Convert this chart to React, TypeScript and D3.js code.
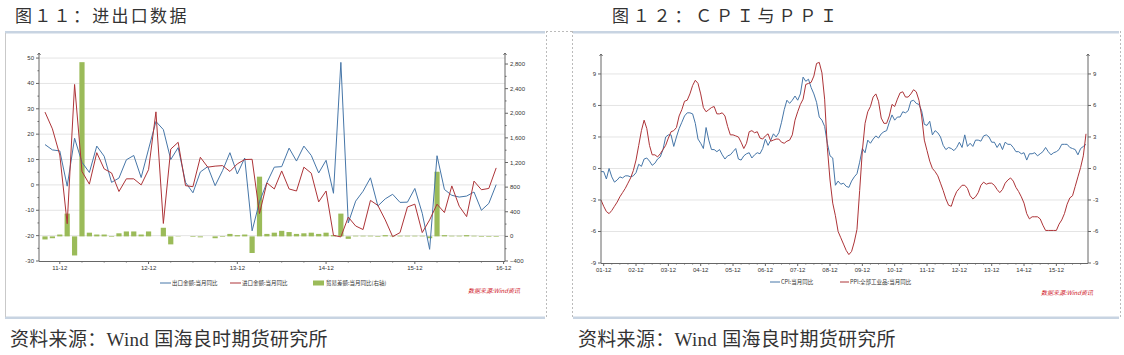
import React from "react";
import * as d3 from "d3";

// ---------- Left chart data (monthly, 2011-10 .. 2016-11) ----------
const exportYoY = [15.9, 13.8, 13.4,
  -0.5, 18.4, 8.9, 4.9, 15.3, 11.3, 1.0, 2.7, 9.9, 11.6, 2.9, 14.1,
  25.0, 21.8, 10.0, 14.7, 1.0, -3.1, 5.1, 7.2, -0.3, 5.6, 12.7, 4.3,
  10.6, -18.1, -6.6, 0.9, 7.0, 7.2, 14.5, 9.4, 15.3, 11.6, 4.7, 9.7,
  -3.3, 48.3, -15.0, -6.4, -2.5, 2.8, -8.3, -5.5, -3.7, -6.9, -6.8, -1.4,
  -11.2, -25.4, 11.5, -1.8, -4.1, -4.8, -4.4, -2.8, -10.0, -7.3, 0.1];
const importYoY = [28.7, 22.1, 11.8,
  -15.3, 39.6, 5.3, 0.3, 12.7, 6.3, 4.7, -2.6, 2.4, 2.4, 0.0, 6.0,
  28.8, -15.2, 14.1, 16.8, -0.3, -0.7, 10.9, 7.0, 7.4, 7.6, 5.3, 8.3,
  10.0, 10.1, -11.3, 0.8, -1.6, 5.5, -1.6, -2.4, 7.0, 4.6, -6.7, -2.4,
  -19.9, -20.5, -12.7, -16.2, -17.6, -6.1, -8.1, -13.8, -20.4, -18.8, -8.7, -7.6,
  -18.8, -13.8, -7.6, -10.9, -0.4, -8.4, -12.5, 1.5, -1.9, -1.4, 6.7];
const balanceYoY = [-50, -30, 30,
  370, -310, 2830, 60, 30, 30, -10, 50, 80, 80, 30, 80,
  0, 140, -130, -5, 0, -10, -15, 0, -30, -10, 40, 20,
  30, -270, 970, 40, 60, 90, 70, 40, 50, 60, 40, 60,
  20, 370, -40, 10, 10, 10, -10, 20, 10, 10, 10, 10,
  10, -30, 1050, 20, 10, 10, 20, 10, -10, -10, -10];
const tradeTickLabels = ["11-12", "12-12", "13-12", "14-12", "15-12", "16-12"];
const tradeLeftTicks = [50, 40, 30, 20, 10, 0, -10, -20, -30];
const tradeRightTicks = [2800, 2400, 2000, 1600, 1200, 800, 400, 0, -400];
const tradeLegend = ["出口金额:当月同比", "进口金额:当月同比", "贸易差额:当月同比(右轴)"];

// ---------- Right chart data (monthly, 2001-11 .. 2016-11) ----------
const cpiYoY = [-0.3, -0.3,
  -1.0, 0.0, -0.8, -1.3, -1.1, -0.8, -0.9, -0.7, -0.7, -0.8, -0.7, -0.4,
  0.4, 0.2, 0.9, 1.0, 0.7, 0.3, 0.5, 0.9, 1.1, 1.8, 3.0, 3.2,
  3.2, 2.1, 3.0, 3.8, 4.4, 5.0, 5.3, 5.3, 5.2, 4.3, 2.8, 2.4,
  1.9, 3.9, 2.7, 1.8, 1.8, 1.6, 1.8, 1.3, 0.9, 1.2, 1.3, 1.6,
  1.9, 0.9, 0.8, 1.2, 1.4, 1.5, 1.0, 1.3, 1.5, 1.4, 1.9, 2.8,
  2.2, 2.7, 3.3, 3.0, 3.4, 4.4, 5.6, 6.5, 6.2, 6.5, 6.9, 6.5,
  7.1, 8.7, 8.3, 8.5, 7.7, 7.1, 6.3, 4.9, 4.6, 4.0, 2.4, 1.2,
  1.0, -1.6, -1.2, -1.5, -1.4, -1.7, -1.8, -1.2, -0.8, -0.5, 0.6, 1.9,
  1.5, 2.7, 2.4, 2.8, 3.1, 2.9, 3.3, 3.5, 3.6, 4.4, 5.1, 4.6,
  4.9, 4.9, 5.4, 5.3, 5.5, 6.4, 6.5, 6.2, 6.1, 5.5, 4.2, 4.1,
  4.5, 3.2, 3.6, 3.4, 3.0, 2.2, 1.8, 2.0, 1.9, 1.7, 2.0, 2.5,
  2.0, 3.2, 2.1, 2.4, 2.1, 2.7, 2.7, 2.6, 3.1, 3.2, 3.0, 2.5,
  2.5, 2.0, 2.4, 1.8, 2.5, 2.3, 2.3, 2.0, 1.6, 1.6, 1.4, 1.5,
  0.8, 1.4, 1.4, 1.5, 1.2, 1.4, 1.6, 2.0, 1.6, 1.3, 1.5, 1.6,
  1.8, 2.3, 2.3, 2.3, 2.0, 1.9, 1.8, 1.3, 1.9, 2.1, 2.3];
const ppiYoY = [-3.0, -3.6,
  -4.1, -4.3, -4.0, -3.6, -3.2, -2.7, -2.3, -1.9, -1.4, -0.9, -0.2, 0.8,
  2.2, 3.6, 4.6, 3.8, 2.2, 1.3, 1.3, 1.1, 1.4, 1.8, 2.2, 2.9,
  3.5, 3.6, 3.9, 5.0, 5.6, 6.4, 6.5, 7.1, 7.9, 8.4, 8.1, 7.1,
  5.8, 5.4, 5.6, 5.8, 5.9, 5.2, 5.2, 5.3, 5.0, 4.0, 3.2, 3.2,
  3.1, 3.0, 2.5, 1.9, 2.4, 3.5, 3.6, 3.4, 3.5, 2.9, 2.8, 3.1,
  3.3, 2.6, 2.7, 2.8, 2.8, 2.5, 2.4, 2.6, 2.7, 3.2, 4.6, 5.4,
  6.1, 6.6, 8.0, 8.1, 8.2, 8.8, 10.0, 10.1, 9.1, 6.6, 2.0, -1.1,
  -3.3, -4.5, -6.0, -6.6, -7.2, -7.8, -8.2, -7.9, -7.0, -5.8, -2.1, 1.7,
  4.3, 5.4, 5.9, 6.8, 7.1, 6.4, 4.8, 4.3, 4.3, 5.0, 6.1, 5.9,
  6.6, 7.2, 7.3, 6.8, 6.8, 7.1, 7.5, 7.3, 6.5, 5.0, 2.7, 1.7,
  0.7, 0.0, -0.3, -0.7, -1.4, -2.1, -2.9, -3.5, -3.6, -2.8, -2.2, -1.9,
  -1.6, -1.6, -1.9, -2.6, -2.9, -2.7, -2.3, -1.6, -1.3, -1.5, -1.4, -1.4,
  -1.6, -2.0, -2.3, -2.0, -1.4, -1.1, -0.9, -1.2, -1.8, -2.2, -2.7, -3.3,
  -4.3, -4.8, -4.6, -4.6, -4.6, -4.8, -5.4, -5.9, -5.9, -5.9, -5.9, -5.9,
  -5.3, -4.9, -4.3, -3.4, -2.8, -2.6, -1.7, -0.8, 0.1, 1.2, 3.3];
const priceTickLabels = ["01-12", "02-12", "03-12", "04-12", "05-12", "06-12", "07-12", "08-12",
  "09-12", "10-12", "11-12", "12-12", "13-12", "14-12", "15-12"];
const priceTicks = [9, 6, 3, 0, -3, -6, -9];
const priceLegend = ["CPI:当月同比", "PPI:全部工业品:当月同比"];

const titleLeft = "图１１：进出口数据";
const titleRight = "图１２：ＣＰＩ与ＰＰＩ";
const sourceText = "资料来源：Wind 国海良时期货研究所";
const windText = "数据来源:Wind资讯";

const BLUE = "#4676a8";
const RED = "#ad3438";
const GREEN = "#9bbb59";
const AXIS = "#666";
const GRID = "#e4e4e4";
const TICKFONT = "'Liberation Sans', Arial, sans-serif";
const CJK = "'Noto Sans CJK SC', sans-serif";
const SERIF = "'Liberation Serif', 'Noto Sans CJK SC', serif";

function fmt(v: number) {
  return d3.format(",")(v);
}

function TradeChart() {
  const x0 = 39, x1 = 505, yTop = 53, yBot = 261;
  const x = d3.scaleLinear().domain([0, 62]).range([45, 503.6]);
  const yL = d3.scaleLinear().domain([-30, 52]).range([yBot, yTop]);
  const yR = d3.scaleLinear().domain([-400, 2979]).range([yBot, yTop]);
  const line = (arr: number[]) =>
    d3.line<number>().x((_, i) => x(i)).y((d) => yL(d))(arr) || "";
  const minorL = d3.range(-25, 50, 10);
  const minorR = d3.range(-200, 2800, 400);
  const quarterTicks = d3.range(-1, 63, 3).filter((i) => (i - 2) % 12 !== 0);
  return (
    <g>
      {tradeLeftTicks.filter((t) => t > -30).map((t) => (
        <line key={"g" + t} x1={x0} x2={x1} y1={yL(t)} y2={yL(t)} stroke={GRID} strokeWidth={1} />
      ))}
      {balanceYoY.map((v, i) => (
        <rect key={"b" + i} x={x(i) - 2.6} width={5.2}
          y={Math.min(yR(v), yR(0))} height={Math.abs(yR(v) - yR(0))} fill={GREEN} />
      ))}
      <path d={line(exportYoY)} fill="none" stroke={BLUE} strokeWidth={1} />
      <path d={line(importYoY)} fill="none" stroke={RED} strokeWidth={1} />
      <line x1={x0} x2={x0} y1={yTop} y2={yBot} stroke={AXIS} />
      <line x1={x1} x2={x1} y1={yTop} y2={yBot} stroke={AXIS} />
      <line x1={x0} x2={x1} y1={yBot + 0.5} y2={yBot + 0.5} stroke={AXIS} />
      <path d={`M${x0 - 1.5},${yTop + 2} L${x0},${yTop} L${x0 + 1.5},${yTop + 2}`} fill="none" stroke={AXIS} />
      <path d={`M${x1 - 1.5},${yTop + 2} L${x1},${yTop} L${x1 + 1.5},${yTop + 2}`} fill="none" stroke={AXIS} />
      {tradeLeftTicks.map((t) => (
        <g key={"lt" + t}>
          <line x1={x0 - 3} x2={x0} y1={yL(t)} y2={yL(t)} stroke={AXIS} />
          <text x={x0 - 5} y={yL(t) + 2} fontSize={6} textAnchor="end" fill="#333" fontFamily={TICKFONT}>{t}</text>
        </g>
      ))}
      {minorL.map((t) => (
        <line key={"ml" + t} x1={x0 - 1.5} x2={x0} y1={yL(t)} y2={yL(t)} stroke={AXIS} />
      ))}
      {tradeRightTicks.map((t) => (
        <g key={"rt" + t}>
          <line x1={x1} x2={x1 + 3} y1={yR(t)} y2={yR(t)} stroke={AXIS} />
          <text x={x1 + 5} y={yR(t) + 2} fontSize={6} fill="#333" fontFamily={TICKFONT}>{fmt(t)}</text>
        </g>
      ))}
      {minorR.map((t) => (
        <line key={"mr" + t} x1={x1} x2={x1 + 1.5} y1={yR(t)} y2={yR(t)} stroke={AXIS} />
      ))}
      {tradeTickLabels.map((lab, k) => {
        const xi = x(2 + 12 * k);
        return (
          <g key={"xt" + lab}>
            <line x1={xi} x2={xi} y1={yBot} y2={yBot + 3} stroke={AXIS} />
            <text x={xi} y={yBot + 9} fontSize={6} textAnchor="middle" fill="#333" fontFamily={TICKFONT}>{lab}</text>
          </g>
        );
      })}
      {quarterTicks.filter((i) => x(i) > x0 && x(i) < x1).map((i) => (
        <line key={"q" + i} x1={x(i)} x2={x(i)} y1={yBot} y2={yBot + 1.5} stroke={AXIS} />
      ))}
      <line x1={160} x2={171} y1={283} y2={283} stroke={BLUE} />
      <text x={172} y={285} fontSize={5.5} fill="#333" fontFamily={CJK}>{tradeLegend[0]}</text>
      <line x1={230} x2={241} y1={283} y2={283} stroke={RED} />
      <text x={242} y={285} fontSize={5.5} fill="#333" fontFamily={CJK}>{tradeLegend[1]}</text>
      <rect x={313} y={280.5} width={11} height={5} fill={GREEN} />
      <text x={326} y={285} fontSize={5.5} fill="#333" fontFamily={CJK}>{tradeLegend[2]}</text>
      <text x={468} y={293} fontSize={6} fill="#d0202a" fontStyle="italic" fontFamily={CJK}>{windText}</text>
    </g>
  );
}

function PriceChart() {
  const x0 = 601, x1 = 1088, yTop = 54, yBot = 263;
  const x = d3.scaleLinear().domain([0, 180]).range([601, 1086]);
  const y = d3.scaleLinear().domain([-9, 10.9]).range([yBot, yTop]);
  const line = (arr: number[]) =>
    d3.line<number>().x((_, i) => x(i)).y((d) => y(d))(arr) || "";
  const quarterTicks = d3.range(1, 181, 3).filter((i) => (i - 1) % 12 !== 0);
  return (
    <g>
      {priceTicks.filter((t) => t > -9).map((t) => (
        <line key={"g" + t} x1={x0} x2={x1} y1={y(t)} y2={y(t)} stroke={GRID} />
      ))}
      <path d={line(cpiYoY)} fill="none" stroke={BLUE} strokeWidth={1} />
      <path d={line(ppiYoY)} fill="none" stroke={RED} strokeWidth={1} />
      <line x1={x0} x2={x0} y1={yTop} y2={yBot} stroke={AXIS} />
      <line x1={x1} x2={x1} y1={yTop} y2={yBot} stroke={AXIS} />
      <line x1={x0} x2={x1} y1={yBot + 0.5} y2={yBot + 0.5} stroke={AXIS} />
      <path d={`M${x0 - 1.5},${yTop + 2} L${x0},${yTop} L${x0 + 1.5},${yTop + 2}`} fill="none" stroke={AXIS} />
      <path d={`M${x1 - 1.5},${yTop + 2} L${x1},${yTop} L${x1 + 1.5},${yTop + 2}`} fill="none" stroke={AXIS} />
      {priceTicks.map((t) => (
        <g key={"t" + t}>
          <line x1={x0 - 3} x2={x0} y1={y(t)} y2={y(t)} stroke={AXIS} />
          <text x={x0 - 5} y={y(t) + 2} fontSize={6} textAnchor="end" fill="#333" fontFamily={TICKFONT}>{t}</text>
          <line x1={x1} x2={x1 + 3} y1={y(t)} y2={y(t)} stroke={AXIS} />
          <text x={x1 + 5} y={y(t) + 2} fontSize={6} fill="#333" fontFamily={TICKFONT}>{t}</text>
        </g>
      ))}
      {priceTickLabels.map((lab, k) => {
        const xi = x(1 + 12 * k);
        return (
          <g key={"xt" + lab}>
            <line x1={xi} x2={xi} y1={yBot} y2={yBot + 3} stroke={AXIS} />
            <text x={xi} y={yBot + 9} fontSize={6} textAnchor="middle" fill="#333" fontFamily={TICKFONT}>{lab}</text>
          </g>
        );
      })}
      {quarterTicks.map((i) => (
        <line key={"q" + i} x1={x(i)} x2={x(i)} y1={yBot} y2={yBot + 1.5} stroke={AXIS} />
      ))}
      <line x1={770} x2={780} y1={282} y2={282} stroke={BLUE} />
      <text x={781} y={284} fontSize={5.5} fill="#333" fontFamily={CJK}>{priceLegend[0]}</text>
      <line x1={840} x2={849} y1={282} y2={282} stroke={RED} />
      <text x={850} y={284} fontSize={5.5} fill="#333" fontFamily={CJK}>{priceLegend[1]}</text>
      <text x={1041} y={295} fontSize={6} fill="#d0202a" fontStyle="italic" fontFamily={CJK}>{windText}</text>
    </g>
  );
}

export default function App() {
  return (
    <svg width={1124} height={355} style={{ position: "absolute", left: 0, top: 0, background: "#fff" }}>
      <rect width={1124} height={355} fill="#fff" />
      <text x={15} y={22} fontSize={17} letterSpacing={2.3} fill="#333" fontFamily={CJK}>{titleLeft}</text>
      <text x={612} y={22} fontSize={17} letterSpacing={3.8} fill="#333" fontFamily={CJK}>{titleRight}</text>
      <rect x={5} y={31} width={540} height={2.5} fill="#c8d4e2" />
      <rect x={5} y={316.5} width={540} height={2.5} fill="#c8d4e2" />
      <line x1={5.5} x2={5.5} y1={33} y2={317} stroke="#c9c9c9" />
      <line x1={546.5} x2={546.5} y1={31} y2={319} stroke="#bbb" strokeDasharray="2,2" />
      <line x1={546} x2={572} y1={31.5} y2={31.5} stroke="#bbb" strokeDasharray="2,2" />
      <line x1={572.5} x2={572.5} y1={31} y2={319} stroke="#bbb" strokeDasharray="2,2" />
      <rect x={573} y={31} width={546} height={2.5} fill="#c8d4e2" />
      <rect x={573} y={316.5} width={546} height={2.5} fill="#c8d4e2" />
      <line x1={1120.5} x2={1120.5} y1={31} y2={319} stroke="#bbb" strokeDasharray="2,2" />
      <TradeChart />
      <PriceChart />
      <text x={10} y={346} fontSize={19} letterSpacing={0.3} fill="#333" fontFamily={SERIF}>{sourceText}</text>
      <text x={578} y={346} fontSize={19} letterSpacing={0.3} fill="#333" fontFamily={SERIF}>{sourceText}</text>
    </svg>
  );
}
